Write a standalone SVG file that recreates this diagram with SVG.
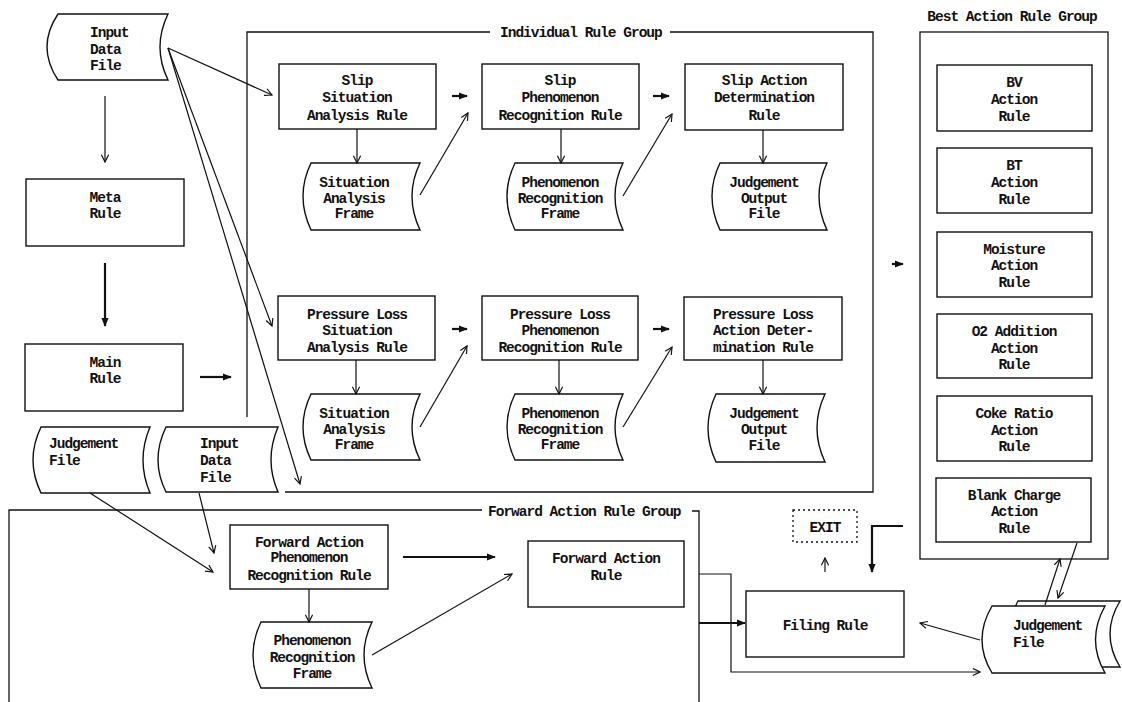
<svg xmlns="http://www.w3.org/2000/svg" width="1122" height="702" viewBox="0 0 1122 702">
<style>
.bx{fill:#fff;stroke:#111;stroke-width:1.4}
.grp{fill:none;stroke:#111;stroke-width:1.3}
.ln{fill:none;stroke:#111;stroke-width:1.2}
.th{fill:none;stroke:#111;stroke-width:2.2}
.dot{fill:#fff;stroke:#111;stroke-width:1.3;stroke-dasharray:2 3}
text{font-family:"Liberation Mono","DejaVu Sans Mono",monospace;font-size:14.5px;font-weight:bold;letter-spacing:-1px;fill:#111}
.c{text-anchor:middle}
</style>
<defs>
<marker id="a" viewBox="0 0 10 10" refX="9" refY="5" markerWidth="9" markerHeight="9" markerUnits="userSpaceOnUse" orient="auto">
<path d="M1,1 L9,5 L1,9" fill="none" stroke="#111" stroke-width="1.3"/>
</marker>
<marker id="af" viewBox="0 0 10 10" refX="9" refY="5" markerWidth="9" markerHeight="9" markerUnits="userSpaceOnUse" orient="auto">
<path d="M0,1 L10,5 L0,9 Z" fill="#111"/>
</marker>
</defs>

<g id="groups">
<path class="grp" d="M490,32 L247,32 L247,417 M670,32 L873,32 L873,492 L285,492"/>
<text x="500" y="37">Individual Rule Group</text>
<rect class="grp" x="920" y="32" width="188" height="527"/>
<text class="c" x="1012" y="21">Best Action Rule Group</text>
<path class="grp" d="M482,510 L9,510 L9,702 M692,511 L699,511 L699,702"/>
<text x="488" y="516">Forward Action Rule Group</text>
</g>

<g id="input-top"><path class="bx" d="M58,14 L168,14 Q152,47 168,80 L58,80 Q36,47 58,14 Z"/>
<text x="90" y="37">Input</text><text x="90" y="54">Data</text><text x="90" y="70">File</text></g>

<g id="meta"><rect class="bx" x="26" y="179" width="158" height="67"/>
<text class="c" x="105" y="202">Meta</text><text class="c" x="105" y="218">Rule</text></g>

<g id="main"><rect class="bx" x="25" y="344" width="158" height="67"/>
<text class="c" x="105" y="367">Main</text><text class="c" x="105" y="383">Rule</text></g>

<g id="judgement-left"><path class="bx" d="M41,427 L150,427 Q136,460 150,493 L41,493 Q25,460 41,427 Z"/>
<text x="49" y="448">Judgement</text><text x="49" y="465">File</text></g>

<g id="input-2"><path class="bx" d="M166,427 L278,427 Q264,460 278,492 L166,492 Q150,460 166,427 Z"/>
<text x="200" y="448">Input</text><text x="200" y="465">Data</text><text x="200" y="482">File</text></g>

<g id="slip-sa"><rect class="bx" x="279" y="64" width="157" height="65"/>
<text class="c" x="357" y="85">Slip</text><text class="c" x="357" y="102">Situation</text><text class="c" x="357" y="120">Analysis Rule</text></g>
<g id="slip-pr"><rect class="bx" x="482" y="64" width="157" height="65"/>
<text class="c" x="560" y="85">Slip</text><text class="c" x="560" y="102">Phenomenon</text><text class="c" x="560" y="120">Recognition Rule</text></g>
<g id="slip-ad"><rect class="bx" x="685" y="64" width="158" height="66"/>
<text class="c" x="764" y="85">Slip Action</text><text class="c" x="764" y="102">Determination</text><text class="c" x="764" y="120">Rule</text></g>

<g id="slip-saf"><path class="bx" d="M311,163 L420,163 Q404,196 420,230 L311,230 Q295,196 311,163 Z"/>
<text class="c" x="354" y="187">Situation</text><text class="c" x="354" y="203">Analysis</text><text class="c" x="354" y="218">Frame</text></g>
<g id="slip-prf"><path class="bx" d="M515,163 L623,163 Q607,196 623,230 L515,230 Q499,196 515,163 Z"/>
<text class="c" x="560" y="187">Phenomenon</text><text class="c" x="560" y="203">Recognition</text><text class="c" x="560" y="218">Frame</text></g>
<g id="slip-jof"><path class="bx" d="M720,163 L827,163 Q811,196 827,230 L720,230 Q704,196 720,163 Z"/>
<text class="c" x="764" y="187">Judgement</text><text class="c" x="764" y="203">Output</text><text class="c" x="764" y="218">File</text></g>

<g id="pl-sa"><rect class="bx" x="278" y="296" width="157" height="64"/>
<text class="c" x="357" y="319">Pressure Loss</text><text class="c" x="357" y="335">Situation</text><text class="c" x="357" y="352">Analysis Rule</text></g>
<g id="pl-pr"><rect class="bx" x="482" y="296" width="156" height="64"/>
<text class="c" x="560" y="319">Pressure Loss</text><text class="c" x="560" y="335">Phenomenon</text><text class="c" x="560" y="352">Recognition Rule</text></g>
<g id="pl-ad"><rect class="bx" x="684" y="297" width="158" height="63"/>
<text class="c" x="763" y="319">Pressure Loss</text><text class="c" x="763" y="335">Action Deter-</text><text class="c" x="763" y="352">mination Rule</text></g>

<g id="pl-saf"><path class="bx" d="M311,394 L420,394 Q404,427 420,460 L311,460 Q295,427 311,394 Z"/>
<text class="c" x="354" y="418">Situation</text><text class="c" x="354" y="434">Analysis</text><text class="c" x="354" y="449">Frame</text></g>
<g id="pl-prf"><path class="bx" d="M515,394 L623,394 Q607,427 623,460 L515,460 Q499,427 515,394 Z"/>
<text class="c" x="560" y="418">Phenomenon</text><text class="c" x="560" y="434">Recognition</text><text class="c" x="560" y="449">Frame</text></g>
<g id="pl-jof"><path class="bx" d="M716,394 L825,394 Q809,428 825,462 L716,462 Q700,428 716,394 Z"/>
<text class="c" x="764" y="418">Judgement</text><text class="c" x="764" y="434">Output</text><text class="c" x="764" y="450">File</text></g>

<g id="bv"><rect class="bx" x="937" y="65" width="155" height="66"/>
<text class="c" x="1014" y="87">BV</text><text class="c" x="1014" y="104">Action</text><text class="c" x="1014" y="121">Rule</text></g>
<g id="bt"><rect class="bx" x="937" y="148" width="155" height="65"/>
<text class="c" x="1014" y="170">BT</text><text class="c" x="1014" y="187">Action</text><text class="c" x="1014" y="204">Rule</text></g>
<g id="moisture"><rect class="bx" x="937" y="232" width="155" height="65"/>
<text class="c" x="1014" y="254">Moisture</text><text class="c" x="1014" y="270">Action</text><text class="c" x="1014" y="287">Rule</text></g>
<g id="o2"><rect class="bx" x="937" y="314" width="155" height="64"/>
<text class="c" x="1014" y="336">O2 Addition</text><text class="c" x="1014" y="353">Action</text><text class="c" x="1014" y="369">Rule</text></g>
<g id="coke"><rect class="bx" x="937" y="396" width="155" height="65"/>
<text class="c" x="1014" y="418">Coke Ratio</text><text class="c" x="1014" y="435">Action</text><text class="c" x="1014" y="451">Rule</text></g>
<g id="blank"><rect class="bx" x="936" y="478" width="155" height="64"/>
<text class="c" x="1014" y="500">Blank Charge</text><text class="c" x="1014" y="516">Action</text><text class="c" x="1014" y="533">Rule</text></g>

<g id="fa-pr"><rect class="bx" x="230" y="525" width="158" height="64"/>
<text class="c" x="309" y="547">Forward Action</text><text class="c" x="309" y="562">Phenomenon</text><text class="c" x="309" y="580">Recognition Rule</text></g>
<g id="fa-prf"><path class="bx" d="M261,622 L372,622 Q356,655 372,688 L261,688 Q245,655 261,622 Z"/>
<text class="c" x="312" y="645">Phenomenon</text><text class="c" x="312" y="662">Recognition</text><text class="c" x="312" y="678">Frame</text></g>
<g id="fa-rule"><rect class="bx" x="528" y="541" width="156" height="66"/>
<text class="c" x="606" y="563">Forward Action</text><text class="c" x="606" y="580">Rule</text></g>

<g id="exit"><rect class="dot" x="793" y="510" width="64" height="32"/>
<text class="c" x="825" y="532">EXIT</text></g>
<g id="filing"><rect class="bx" x="746" y="591" width="158" height="66"/>
<text class="c" x="825" y="630">Filing Rule</text></g>
<g id="judgement-right">
<path class="bx" d="M1018,601 L1120,601 Q1100,634 1120,667 L1018,667 Q1000,634 1018,601 Z"/>
<path class="bx" d="M992,606 L1105,606 Q1086,640 1105,673 L992,673 Q972,640 992,606 Z"/>
<text x="1013" y="630">Judgement</text><text x="1013" y="647">File</text></g>

<g id="connectors">
<path class="ln" d="M168,48 L272,95" marker-end="url(#a)"/>
<path class="ln" d="M168,48 L272,326" marker-end="url(#a)"/>
<path class="ln" d="M168,48 L300,484" marker-end="url(#a)"/>
<path class="ln" d="M105,96 L105,162" marker-end="url(#a)"/>
<path class="th" d="M105,263 L105,326" marker-end="url(#af)"/>
<path class="th" d="M200,377 L231,377" marker-end="url(#af)"/>
<path class="ln" d="M357,129 L357,163" marker-end="url(#a)"/>
<path class="ln" d="M420,195 L468,113" marker-end="url(#a)"/>
<path class="ln" d="M561,129 L561,163" marker-end="url(#a)"/>
<path class="ln" d="M623,196 L672,114" marker-end="url(#a)"/>
<path class="ln" d="M763,130 L763,163" marker-end="url(#a)"/>
<path class="th" d="M452,96 L467,96" marker-end="url(#af)"/>
<path class="th" d="M653,96 L669,96" marker-end="url(#af)"/>
<path class="ln" d="M356,360 L356,394" marker-end="url(#a)"/>
<path class="ln" d="M559,360 L559,394" marker-end="url(#a)"/>
<path class="ln" d="M763,360 L763,394" marker-end="url(#a)"/>
<path class="ln" d="M420,427 L467,346" marker-end="url(#a)"/>
<path class="ln" d="M623,427 L672,347" marker-end="url(#a)"/>
<path class="th" d="M452,329 L467,329" marker-end="url(#af)"/>
<path class="th" d="M653,329 L669,329" marker-end="url(#af)"/>
<path class="th" d="M892,264 L903,264" marker-end="url(#af)"/>
<path class="ln" d="M90,493 L213,572" marker-end="url(#a)"/>
<path class="ln" d="M199,493 L214,553" marker-end="url(#a)"/>
<path class="ln" d="M309,589 L309,622" marker-end="url(#a)"/>
<path class="th" d="M403,557 L495,557" marker-end="url(#af)"/>
<path class="ln" d="M372,655 L512,574" marker-end="url(#a)"/>
<path class="ln" d="M699,574 L731,574 L731,672 L980,672" marker-end="url(#a)"/>
<path class="th" d="M699,623 L745,623" marker-end="url(#af)"/>
<path class="ln" d="M825,572 L825,558" marker-end="url(#a)"/>
<path class="th" d="M903,526 L872,526 L872,572" marker-end="url(#af)"/>
<path class="ln" d="M980,640 L920,623" marker-end="url(#a)"/>
<path class="ln" d="M1045,605 L1060,559" marker-end="url(#a)"/>
<path class="ln" d="M1077,543 L1058,598" marker-end="url(#a)"/>
</g>
</svg>
